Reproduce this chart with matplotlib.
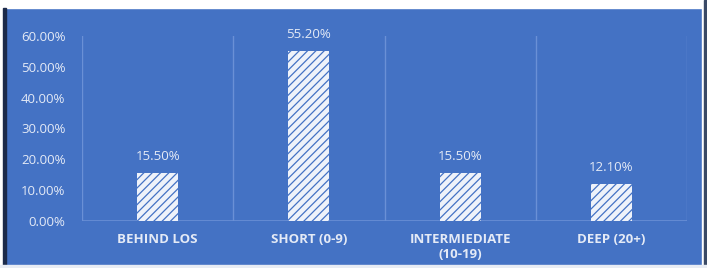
import matplotlib
matplotlib.use("Agg")
import matplotlib.pyplot as plt
from matplotlib.patches import Rectangle

# datos del grafico
categorias = ["BEHIND LOS", "SHORT (0-9)", "INTERMIEDIATE\n(10-19)", "DEEP (20+)"]
valores = [15.5, 55.2, 15.5, 12.1]
etiquetas = ["15.50%", "55.20%", "15.50%", "12.10%"]
ticks_y = [0, 10, 20, 30, 40, 50, 60]

AZUL = "#4472C4"
TEXTO = "#e4eaf6"
LINEA = "#6a90d6"

plt.rcParams["font.family"] = ["Open Sans", "DejaVu Sans"]
plt.rcParams["hatch.linewidth"] = 0.9

fig = plt.figure(figsize=(7.07, 2.68), dpi=100, facecolor=AZUL)
ax = fig.add_axes([0.116, 0.1754, 0.8557, 0.6903])
ax.set_facecolor(AZUL)

x = list(range(len(categorias)))
barras = ax.bar(x, valores, width=0.27, color="#eef2fa", edgecolor=AZUL,
                linewidth=0, hatch="////")

for xi, v, t in zip(x, valores, etiquetas):
    ax.text(xi, v + 5.3, t, ha="center", va="center", color=TEXTO,
            fontsize=9.5, fontweight="medium")

ax.set_xlim(-0.5, len(categorias) - 0.5)
ax.set_ylim(0, 60)
for xs in [i - 0.5 for i in range(len(categorias) + 1)]:
    ax.axvline(xs, color=LINEA, linewidth=1, zorder=0)
ax.axhline(0, color=LINEA, linewidth=1.2, zorder=0)

ax.set_yticks(ticks_y)
ax.set_yticklabels([f"{t:.2f}%" for t in ticks_y], fontweight="medium")
ax.set_xticks(x)
ax.set_xticklabels(categorias, fontweight="bold", linespacing=1.2)
ax.tick_params(axis="both", length=0, colors=TEXTO, labelsize=9.5)
ax.tick_params(axis="x", pad=9)
ax.tick_params(axis="y", pad=12)
for s in ax.spines.values():
    s.set_visible(False)

# bordes de la captura
fig.patches.append(Rectangle((0, 1 - 8 / 268), 1, 8 / 268, transform=fig.transFigure,
                             color="white", zorder=5))
fig.patches.append(Rectangle((0, 0), 3 / 707, 1, transform=fig.transFigure,
                             color="white", zorder=5))
fig.patches.append(Rectangle((3 / 707, 0), 2.5 / 707, 1 - 8 / 268, transform=fig.transFigure,
                             color="#1c2a4a", zorder=5))
fig.patches.append(Rectangle((702 / 707, 0), 2 / 707, 1, transform=fig.transFigure,
                             color="white", zorder=5))
fig.patches.append(Rectangle((704 / 707, 0), 3 / 707, 1, transform=fig.transFigure,
                             color="#3a4a66", zorder=5))
fig.patches.append(Rectangle((0, 0), 1, 3 / 268, transform=fig.transFigure,
                             color="#e8ecf4", zorder=5))

fig.savefig("out.png", dpi=100, facecolor=AZUL)
